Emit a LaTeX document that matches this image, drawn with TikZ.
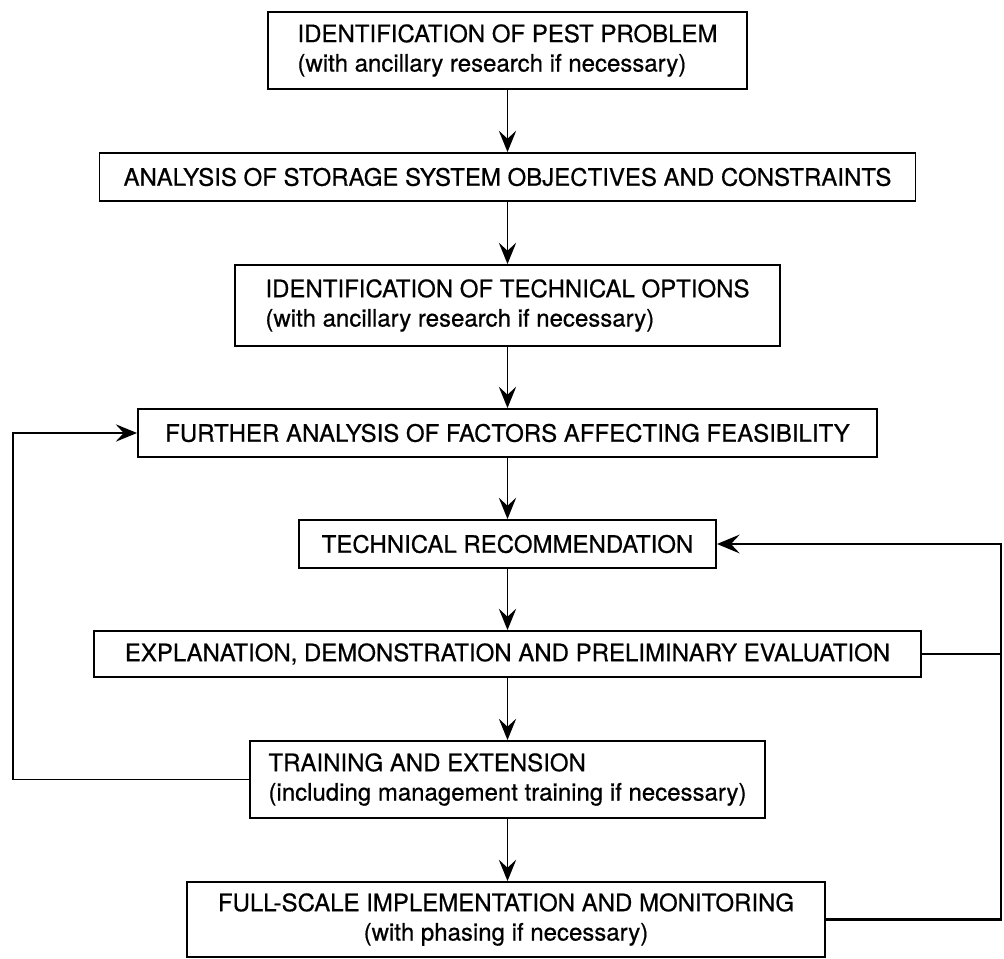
\documentclass[tikz,border=0pt]{standalone}
\usepackage{fontspec}
\setmainfont{TeX Gyre Heros}[FakeBold=0.6]
\usetikzlibrary{arrows.meta}
\begin{document}
\begin{tikzpicture}[x=0.75pt,y=-0.75pt,
  box/.style={draw, line width=1.4pt, inner sep=0pt, font=\fontsize{18}{22}\selectfont},
  tip/.style={-{Stealth[length=16pt,width=13pt,inset=6pt]}},
  arr/.style={line width=1.4pt, tip},
  fb/.style={line width=1.4pt},
  fbthick/.style={line width=2.2pt}]
\useasboundingbox (0,0) rectangle (1004,959);
\node[box, minimum width=479*0.75pt, minimum height=77*0.75pt, align=left] (b1) at (507.5,50.5)
  {IDENTIFICATION OF PEST PROBLEM\\(with ancillary research if necessary)};
\node[box, minimum width=816*0.75pt, minimum height=48*0.75pt] (b2) at (507.5,177)
  {ANALYSIS OF STORAGE SYSTEM OBJECTIVES AND CONSTRAINTS};
\node[box, minimum width=545*0.75pt, minimum height=81*0.75pt, align=left] (b3) at (507.5,305.5)
  {IDENTIFICATION OF TECHNICAL OPTIONS\\(with ancillary research if necessary)};
\node[box, minimum width=739*0.75pt, minimum height=48*0.75pt] (b4) at (507.5,433)
  {FURTHER ANALYSIS OF FACTORS AFFECTING FEASIBILITY};
\node[box, minimum width=417*0.75pt, minimum height=48*0.75pt] (b5) at (507.5,544)
  {TECHNICAL RECOMMENDATION};
\node[box, minimum width=827*0.75pt, minimum height=46*0.75pt] (b6) at (507.5,654)
  {EXPLANATION, DEMONSTRATION AND PRELIMINARY EVALUATION};
\node[box, minimum width=515*0.75pt, minimum height=77*0.75pt, align=left] (b7) at (507.5,779.5)
  {TRAINING AND EXTENSION\\(including management training if necessary)};
\node[box, minimum width=638*0.75pt, minimum height=75*0.75pt, align=center] (b8) at (506,919.5)
  {FULL-SCALE IMPLEMENTATION AND MONITORING\\(with phasing if necessary)};
\coordinate (L) at (13,0);
\coordinate (R) at (1001,0);
\draw[arr] (b1.south) -- (b2.north);
\draw[arr] (b2.south) -- (b3.north);
\draw[arr] (b3.south) -- (b4.north);
\draw[arr] (b4.south) -- (b5.north);
\draw[arr] (b5.south) -- (b6.north);
\draw[arr] (b6.south) -- (b7.north);
\draw[arr] (b7.south) -- (b8.north -| b7.south);
\draw[arr] (b7.west) -- (b7.west -| L) |- (b4.west);
\draw[fb] (b6.east) -- (b6.east -| R);
\draw[fbthick, -{Stealth[length=17pt,width=14pt,inset=6.5pt]}] (b8.east) -- (b8.east -| R) |- (b5.east);
\end{tikzpicture}
\end{document}
